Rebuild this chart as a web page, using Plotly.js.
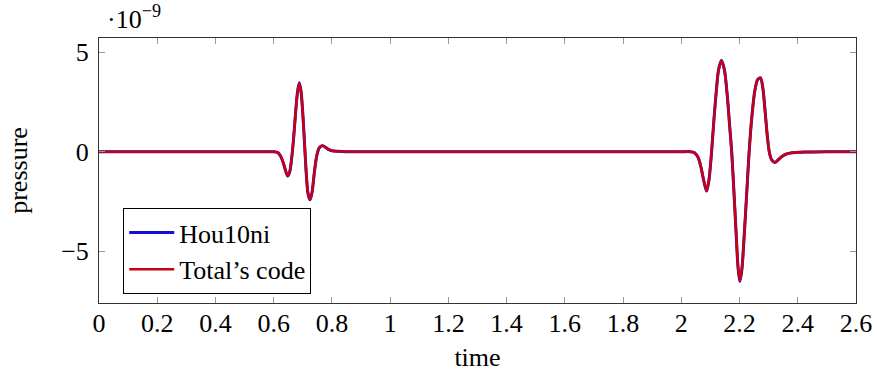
<!DOCTYPE html>
<html>
<head>
<meta charset="utf-8">
<script src="https://cdn.plot.ly/plotly-3.0.1.min.js"></script>
<style>
  html, body { margin: 0; padding: 0; background: #fff; }
  #chart { width: 877px; height: 377px; }
</style>
</head>
<body>
<div id="chart"></div>
<script>
// Pressure trace (in units of 1e-9) sampled over time.
const time = [
  0, 0.2, 0.4, 0.59, 0.60, 0.615, 0.625, 0.635, 0.642, 0.648, 0.655, 0.662, 0.668,
  0.675, 0.682, 0.688, 0.694, 0.700, 0.706, 0.712, 0.718, 0.725, 0.732, 0.740,
  0.748, 0.756, 0.763, 0.770, 0.780, 0.790, 0.800, 0.820, 0.850, 1.0, 1.5, 2.0,
  2.030, 2.045, 2.058, 2.068, 2.078, 2.087, 2.095, 2.104, 2.112, 2.120, 2.128,
  2.138, 2.148, 2.158, 2.166, 2.173, 2.180, 2.188, 2.195, 2.201, 2.208, 2.216,
  2.225, 2.233, 2.242, 2.252, 2.262, 2.272, 2.280, 2.288, 2.296, 2.302, 2.310,
  2.321, 2.332, 2.345, 2.360, 2.380, 2.420, 2.500, 2.600
];

const hou10ni = [
  0, 0, 0, 0, 0, -0.05, -0.26, -0.66, -1.02, -1.22, -1.02, -0.30, 0.60,
  1.92, 3.02, 3.46, 3.02, 1.90, 0.40, -1.12, -2.12, -2.42, -2.02, -1.00,
  -0.20, 0.18, 0.28, 0.29, 0.20, 0.10, 0.05, 0.02, 0, 0, 0, 0,
  0, -0.05, -0.30, -0.82, -1.52, -1.98, -1.42, 0, 1.60, 3.02, 4.12,
  4.59, 4.12, 2.80, 1.30, 0, -1.82, -4.02, -5.84, -6.52, -5.92, -4.22,
  -2.00, 0, 1.70, 3.02, 3.62, 3.71, 3.20, 2.00, 0.70, 0, -0.40,
  -0.54, -0.42, -0.25, -0.12, -0.05, -0.02, 0, 0
];

const totalCode = [
  0, 0, 0, 0, 0, -0.05, -0.25, -0.65, -1.00, -1.20, -1.00, -0.30, 0.60,
  1.90, 3.00, 3.44, 3.00, 1.90, 0.40, -1.10, -2.10, -2.40, -2.00, -1.00,
  -0.20, 0.18, 0.28, 0.29, 0.20, 0.10, 0.05, 0.02, 0, 0, 0, 0,
  0, -0.05, -0.30, -0.80, -1.50, -1.96, -1.40, 0, 1.60, 3.00, 4.10,
  4.57, 4.10, 2.80, 1.30, 0, -1.80, -4.00, -5.80, -6.48, -5.90, -4.20,
  -2.00, 0, 1.70, 3.00, 3.60, 3.69, 3.20, 2.00, 0.70, 0, -0.40,
  -0.53, -0.42, -0.25, -0.12, -0.05, -0.02, 0, 0
];

const xTicks = [0, 0.2, 0.4, 0.6, 0.8, 1, 1.2, 1.4, 1.6, 1.8, 2, 2.2, 2.4, 2.6];
const yTicks = [-5, 0, 5];
const yTickText = ['\u22125', '0', '5'];

const serif = 'Liberation Serif, DejaVu Serif, serif';
const fs = 26;

const traces = [
  {
    x: time, y: hou10ni, name: 'Hou10ni', type: 'scatter', mode: 'lines',
    line: { color: '#1010d0', width: 3.0, shape: 'spline', smoothing: 0.8 }
  },
  {
    x: time, y: totalCode, name: 'Total\u2019s code', type: 'scatter', mode: 'lines',
    line: { color: '#c80012', width: 2.6, shape: 'spline', smoothing: 0.8 }
  }
];

const axisCommon = {
  showgrid: false, zeroline: false, showline: true, mirror: 'allticks',
  linecolor: '#333', linewidth: 1, ticks: 'inside', ticklen: 6,
  tickcolor: '#999', tickwidth: 1,
  tickfont: { family: serif, size: fs, color: '#000' }
};

const layout = {
  width: 877, height: 377,
  margin: { l: 99, r: 21, t: 38, b: 74 },
  paper_bgcolor: '#fff', plot_bgcolor: '#fff',
  showlegend: true,
  font: { family: serif, color: '#000' },
  xaxis: Object.assign({}, axisCommon, {
    range: [0, 2.6], tickvals: xTicks, ticklabelstandoff: -3,
    title: { text: 'time', font: { family: serif, size: fs }, standoff: 10 }
  }),
  yaxis: Object.assign({}, axisCommon, {
    range: [-7.6, 5.71], tickvals: yTicks, ticktext: yTickText, ticklabelstandoff: 4,
    title: { text: 'pressure', font: { family: serif, size: fs }, standoff: 26 }
  }),
  legend: {
    x: 0.032, y: 0.034, xanchor: 'left', yanchor: 'bottom',
    bgcolor: '#fff', bordercolor: '#000', borderwidth: 1,
    font: { family: serif, size: fs, color: '#000' },
    tracegroupgap: 0, itemwidth: 45,
    entrywidth: 209, entrywidthmode: 'pixels'
  },
  annotations: [
    {
      xref: 'paper', yref: 'paper', x: 0.008, y: 1.0, xanchor: 'left', yanchor: 'bottom',
      yshift: 2, showarrow: false,
      text: '\u00b710<sup>\u22129</sup>',
      font: { family: serif, size: fs, color: '#000' }
    }
  ]
};

Plotly.newPlot('chart', traces, layout, { displayModeBar: false, staticPlot: true });
</script>
</body>
</html>
